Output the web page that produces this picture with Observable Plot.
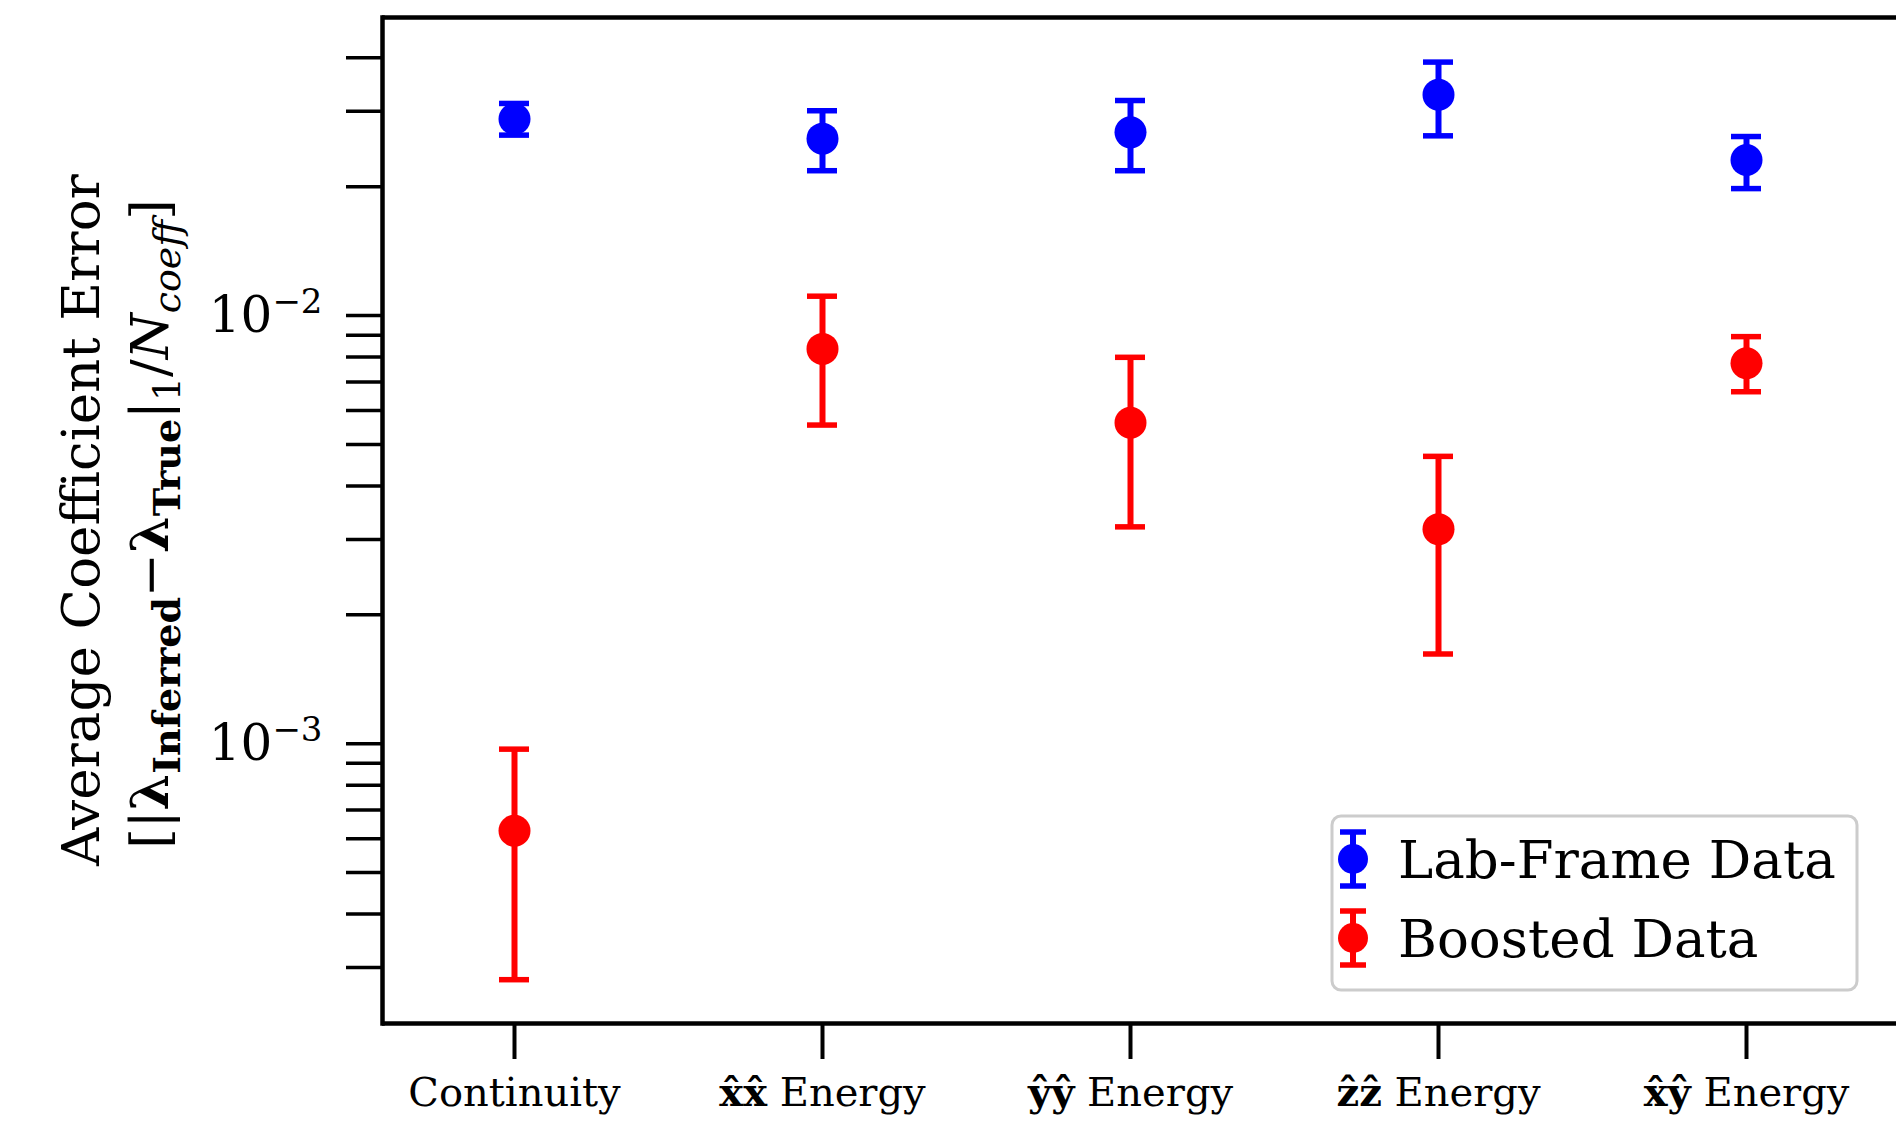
<!DOCTYPE html>
<html><head><meta charset="utf-8">
<script src="https://cdn.jsdelivr.net/npm/d3@7"></script>
<script src="https://cdn.jsdelivr.net/npm/@observablehq/plot@0.6"></script>
<style>
html,body{margin:0;padding:0;background:#fff;overflow:hidden}
#chart{position:relative;width:1896px;height:1128px}
</style></head><body><div id="chart"></div>
<script>
// ---- data ----
const categories = ["Continuity", "xx", "yy", "zz", "xy"];
const labelBold = ["", "x\u0302x\u0302", "y\u0302y\u0302", "z\u0302z\u0302", "x\u0302y\u0302"];
const labelText = ["Continuity", "Energy", "Energy", "Energy", "Energy"];

const labValue = [0.0288, 0.0259, 0.0268, 0.0328, 0.0231];
const labLow   = [0.0264, 0.0218, 0.0218, 0.0263, 0.0198];
const labHigh  = [0.0313, 0.0301, 0.0318, 0.0391, 0.0262];

const boostValue = [0.000626, 0.00836, 0.00562, 0.00317, 0.00774];
const boostLow   = [0.000281, 0.00555, 0.00321, 0.00162, 0.00664];
const boostHigh  = [0.000971, 0.0111, 0.00799, 0.00469, 0.00893];

const seriesNames = ["Lab-Frame Data", "Boosted Data"];
const seriesColors = ["#0000ff", "#ff0000"];

const yDomain = [2.22e-4, 0.0497];
const yTicks = [0.0003, 0.0004, 0.0005, 0.0006, 0.0007, 0.0008, 0.0009,
  0.001, 0.002, 0.003, 0.004, 0.005, 0.006, 0.007, 0.008, 0.009,
  0.01, 0.02, 0.03, 0.04];
const yMajor = [0.001, 0.01];
const yMajorBase = ["10", "10"];
const yMajorExp = ["\u22123", "\u22122"];

// ---- table ----
const data = [];
categories.forEach((c, i) => {
  data.push({cat: c, series: seriesNames[0], v: labValue[i], lo: labLow[i], hi: labHigh[i]});
  data.push({cat: c, series: seriesNames[1], v: boostValue[i], lo: boostLow[i], hi: boostHigh[i]});
});

const FONT = "DejaVu Serif";

const plot = Plot.plot({
  width: 1896, height: 1128,
  marginTop: 17, marginBottom: 105, marginLeft: 382, marginRight: 0,
  style: {fontFamily: FONT, background: "white", color: "black"},
  x: {type: "band", domain: categories, paddingInner: 0.9028, paddingOuter: 0.4044, align: 0.465},
  y: {type: "log", domain: yDomain},
  color: {domain: seriesNames, range: seriesColors},
  marks: [
    Plot.ruleY(yDomain, {stroke: "black", strokeWidth: 4.5}),
    Plot.frame({anchor: "left", stroke: "black", strokeWidth: 4.5}),
    Plot.axisY({ticks: yTicks, tickSize: 36, tickPadding: 24, strokeWidth: 3.5, fontSize: 50,
      tickFormat: d => { const k = yMajor.indexOf(d); return k >= 0 ? yMajorBase[k] + yMajorExp[k] : ""; }, label: null}),
    Plot.axisX({tickSize: 36, tickPadding: 18, strokeWidth: 4, fontSize: 40,
      tickFormat: d => { const k = categories.indexOf(d); return (labelBold[k] ? labelBold[k] + " " : "") + labelText[k]; }, label: null}),
    Plot.ruleX(data, {x: "cat", y1: "lo", y2: "hi", stroke: "series", strokeWidth: 6}),
    Plot.tickY(data, {x: "cat", y: "lo", stroke: "series", strokeWidth: 5.5}),
    Plot.tickY(data, {x: "cat", y: "hi", stroke: "series", strokeWidth: 5.5}),
    Plot.dot(data, {x: "cat", y: "v", fill: "series", r: 16})
  ]
});

document.getElementById("chart").appendChild(plot);
const svg = d3.select(plot);

// rich x tick labels (bold hats)
svg.selectAll('g[aria-label="x-axis tick label"] text').each(function(d, i) {
  const t = d3.select(this);
  t.text(null);
  if (labelBold[i]) {
    t.append("tspan").attr("font-weight", "bold").text(labelBold[i]);
    t.append("tspan").text(" " + labelText[i]);
  } else {
    t.append("tspan").text(labelText[i]);
  }
});

// y tick labels as 10 with superscript exponent
svg.selectAll('g[aria-label="y-axis tick label"] text').each(function() {
  const t = d3.select(this);
  const s = t.text();
  const k = yMajor.findIndex((v, j) => yMajorBase[j] + yMajorExp[j] === s);
  if (k < 0) return;
  t.text(null);
  t.append("tspan").text(yMajorBase[k]);
  t.append("tspan").attr("font-size", 34).attr("dy", -19).text(yMajorExp[k]);
});

// y axis title (two lines)
const cy = (17 + 1023) / 2;
svg.append("text")
  .attr("transform", `translate(80,${cy}) rotate(-90)`)
  .attr("text-anchor", "middle").attr("dy", "0.35em")
  .attr("font-family", FONT).attr("font-size", 53)
  .text("Average Coefficient Error");

const t2 = svg.append("text")
  .attr("transform", `translate(150,${cy + 4}) rotate(-90)`)
  .attr("text-anchor", "middle").attr("dy", "0.35em")
  .attr("font-family", FONT).attr("font-size", 52.5);
const sub = 12, subSize = 38;
t2.append("tspan").text("[|");
t2.append("tspan").attr("font-weight", "bold").text("\u03BB");
t2.append("tspan").attr("font-weight", "bold").attr("font-size", subSize).attr("dy", sub).text("Inferred");
t2.append("tspan").attr("dy", -sub).text("\u2212");
t2.append("tspan").attr("font-weight", "bold").text("\u03BB");
t2.append("tspan").attr("font-weight", "bold").attr("font-size", subSize).attr("dy", sub).text("True");
t2.append("tspan").attr("dy", -sub).text("|");
t2.append("tspan").attr("font-size", subSize).attr("dy", sub).text("1");
t2.append("tspan").attr("dy", -sub).text("/");
t2.append("tspan").attr("font-style", "italic").text("N");
t2.append("tspan").attr("font-style", "italic").attr("font-size", subSize).attr("dy", sub).text("coeff");
t2.append("tspan").attr("dy", -sub).text("]");

// legend
const lg = svg.append("g").attr("font-family", FONT).attr("text-anchor", "start");
lg.append("rect").attr("x", 1332).attr("y", 816).attr("width", 525).attr("height", 174)
  .attr("rx", 9).attr("fill", "white").attr("stroke", "#cccccc").attr("stroke-width", 3);
seriesNames.forEach((name, i) => {
  const yc = 859 + i * 79, xc = 1353, col = seriesColors[i];
  lg.append("line").attr("x1", xc).attr("x2", xc).attr("y1", yc - 27).attr("y2", yc + 27).attr("stroke", col).attr("stroke-width", 6);
  lg.append("line").attr("x1", xc - 13).attr("x2", xc + 13).attr("y1", yc - 27).attr("y2", yc - 27).attr("stroke", col).attr("stroke-width", 5.5);
  lg.append("line").attr("x1", xc - 13).attr("x2", xc + 13).attr("y1", yc + 27).attr("y2", yc + 27).attr("stroke", col).attr("stroke-width", 5.5);
  lg.append("circle").attr("cx", xc).attr("cy", yc).attr("r", 15).attr("fill", col);
  lg.append("text").attr("x", 1398).attr("y", yc).attr("dy", "0.36em").attr("font-size", 53)
    .attr("text-anchor", "start").attr("fill", "black").text(name);
});
</script></body></html>
